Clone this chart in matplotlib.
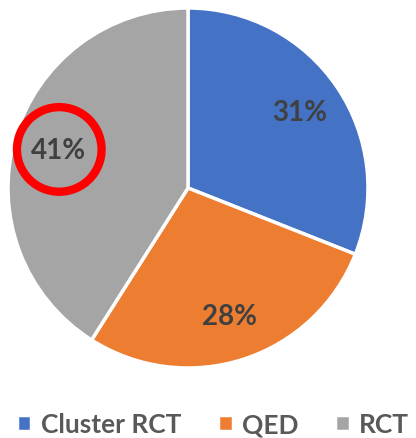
import matplotlib.pyplot as plt
from matplotlib.patches import Circle

plt.rcParams['font.family'] = ['Lato', 'DejaVu Sans']

labels = ['Cluster RCT', 'QED', 'RCT']
shares = [31, 28, 41]
colors = ['#4472C4', '#ED7D31', '#A5A5A5']

fig = plt.figure(figsize=(4.16, 4.39), dpi=100)
ax = fig.add_axes([8 / 416, 1 - 369 / 439, 360 / 416, 360 / 439])

wedges, texts, autotexts = ax.pie(
    shares, colors=colors, startangle=90, counterclock=False,
    autopct='%d%%', pctdistance=0.75, radius=1,
    wedgeprops=dict(edgecolor='white', linewidth=2.5),
    textprops=dict(color='#404040', fontsize=20, fontweight='bold'))
ax.set_xlim(-1, 1)
ax.set_ylim(-1, 1)
ax.set_aspect('equal')

# red ring around the RCT label
x, y = autotexts[2].get_position()
ax.add_patch(Circle((x + 0.005, y + 0.005), 0.235, fill=False,
                    edgecolor='#FF0000', linewidth=6))

fig.legend(wedges, labels, loc='lower center', ncol=3, frameon=False,
           bbox_to_anchor=(0.512, -0.05), handlelength=0.55, handleheight=0.55,
           handletextpad=0.35, columnspacing=1.4,
           prop=dict(size=19, weight='bold'), labelcolor='#595959')

fig.savefig('out.png', dpi=100)
